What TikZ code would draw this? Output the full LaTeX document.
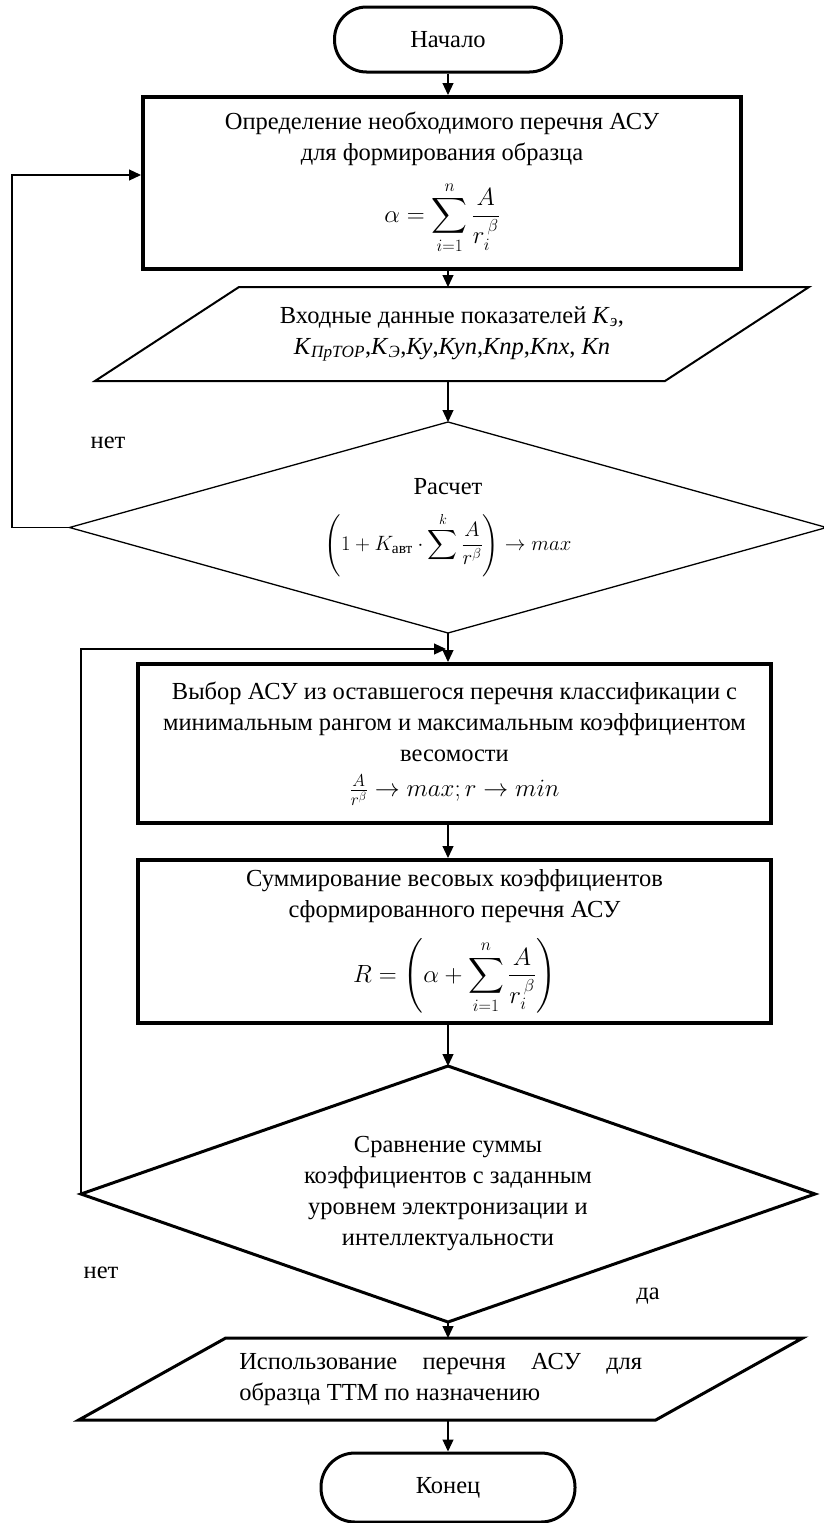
\documentclass[tikz,border=0pt]{standalone}
\usepackage{amsmath}
\usepackage{fontspec}
\setmainfont{Liberation Serif}
\usetikzlibrary{arrows.meta,calc}
\newcommand\Kk[1]{\textit{К}\textsubscript{\textit{#1}}}
\begin{document}
\begin{tikzpicture}[x=1pt,y=-1pt,
  font=\fontsize{24.5}{31}\selectfont,
  term/.style={draw, line width=3pt, rounded corners=32pt, inner sep=0pt},
  proc/.style={draw, line width=4pt, align=center, inner sep=0pt},
  plain/.style={align=center, inner sep=0pt, outer sep=0pt},
  arr/.style={line width=1.2pt, -{Triangle[length=12pt,width=11pt]}},
  lab/.style={inner sep=0pt}]
\useasboundingbox (0,0) rectangle (824,1523);
\coordinate (col) at (448,0);
\coordinate (lx) at (12,0);
\coordinate (merge) at (446,649);

\node[term, minimum width=227pt, minimum height=65pt] (start) at (448,39.5) {Начало};

\node[proc, minimum width=598pt, minimum height=172pt] (box1) at (442,183)
  {Определение необходимого перечня АСУ\\для формирования образца\\[15pt]
   $\displaystyle \alpha=\sum_{i=1}^{n}\frac{A}{r_i^{\,\beta}}$};

\node[plain, minimum width=570pt, minimum height=94pt] (para1) at (452,334)
  {Входные данные показателей \Kk{э},\\
   \Kk{ПрТОР},\Kk{Э},\textit{Ку},\textit{Куп},\textit{Кпр},\textit{Кпх}, \textit{Кп}};
\draw[line width=2pt] ($(para1.north west)+(72,0)$) -- ($(para1.north east)+(72,0)$)
  -- ($(para1.south east)+(-72,0)$) -- ($(para1.south west)+(-72,0)$) -- cycle;

\node[plain, minimum width=757pt, minimum height=211pt] (dec1) at (448,527.5)
  {Расчет\\[17pt]
   {\fontsize{22}{28}\selectfont$\displaystyle\left(1+K_{\text{авт}}\cdot\sum^{k}\frac{A}{r^{\beta}}\right)\to max$}};
\draw[line width=1.3pt] (dec1.north) -- (dec1.east) -- (dec1.south) -- (dec1.west) -- cycle;

\node[proc, minimum width=633pt, minimum height=159pt] (box2) at (454.5,743.5)
  {Выбор АСУ из оставшегося перечня классификации с\\
   минимальным рангом и максимальным коэффициентом\\
   весомости\\[4pt]
   $\frac{A}{r^{\beta}}\to max; r\to min$};

\node[proc, minimum width=633pt, minimum height=163pt] (box3) at (454.5,941.5)
  {Суммирование весовых коэффициентов\\сформированного перечня АСУ\\[15pt]
   $\displaystyle R=\left(\alpha+\sum_{i=1}^{n}\frac{A}{r_i^{\,\beta}}\right)$};

\node[plain, minimum width=734pt, minimum height=256pt] (dec2) at (448,1194)
  {Сравнение суммы\\коэффициентов с заданным\\уровнем электронизации и\\интеллектуальности};
\draw[line width=3pt] (dec2.north) -- (dec2.east) -- (dec2.south) -- (dec2.west) -- cycle;

\node[plain, align=left, minimum width=577pt, minimum height=82pt] (para2) at (440.75,1379)
  {\makebox[403pt][s]{Использование перечня АСУ для}\\образца ТТМ по назначению};
\draw[line width=3pt] ($(para2.north west)+(73.5,0)$) -- ($(para2.north east)+(73.5,0)$)
  -- ($(para2.south east)+(-73.5,0)$) -- ($(para2.south west)+(-73.5,0)$) -- cycle;

\node[term, minimum width=254pt, minimum height=69pt, rounded corners=34pt] (stop) at (448,1487.5) {Конец};

\node[lab] (no1) at (108,443) {нет};
\node[lab] (no2) at (101,1273) {нет};
\node[lab] (yes) at (648,1296) {да};

\draw[arr] (col |- start.south) -- (col |- box1.north);
\draw[arr] (col |- box1.south) -- (col |- para1.north);
\draw[arr] (col |- para1.south) -- (dec1.north);
\draw[arr] (dec1.south) -- (col |- box2.north);
\draw[arr] (col |- box2.south) -- (col |- box3.north);
\draw[arr] (col |- box3.south) -- (dec2.north);
\draw[arr] (dec2.south) -- (col |- para2.north);
\draw[arr] (col |- para2.south) -- (stop.north);

\draw[arr] (dec1.west) -- (dec1.west -| lx) |- ($(box1.west)+(0,-8)$);
\draw[arr] (dec2.west) |- (merge);
\end{tikzpicture}
\end{document}
